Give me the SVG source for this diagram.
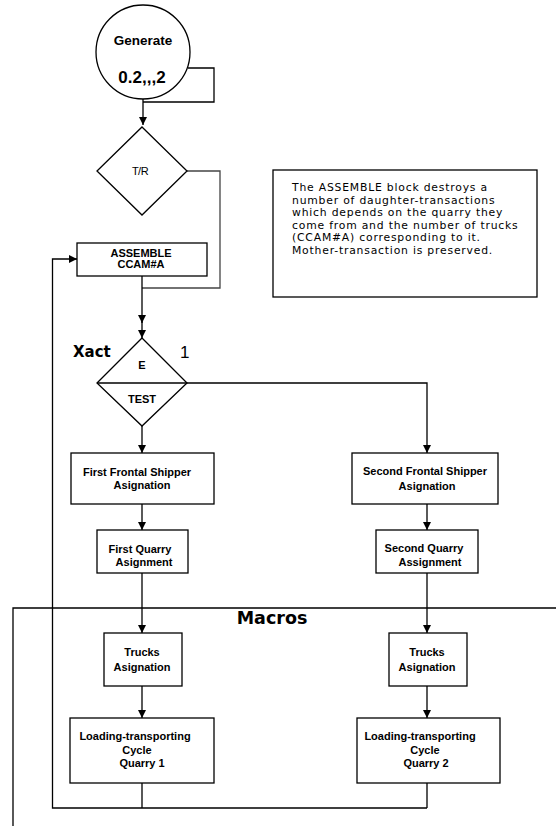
<svg xmlns="http://www.w3.org/2000/svg" width="556" height="826" viewBox="0 0 556 826">
<defs>
<marker id="arr" viewBox="0 0 8 8" refX="8" refY="4" markerWidth="8" markerHeight="8" markerUnits="userSpaceOnUse" orient="auto">
<path d="M0,0 L8,4 L0,8 Z" fill="#000"/>
</marker>
<style>
.n{fill:#fff;stroke:#000;stroke-width:1.3}
.c{fill:none;stroke:#000;stroke-width:1.3}
.g{fill:none;stroke:#444;stroke-width:1.3}
.t{font-family:"Liberation Sans",Arial,sans-serif;font-size:11px;font-weight:bold;text-anchor:middle;fill:#000}
.r{font-family:"Liberation Sans",Arial,sans-serif;font-size:11px;text-anchor:middle;fill:#000}
.note{font-family:"DejaVu Sans",Verdana,sans-serif;font-size:10.8px;letter-spacing:0.8px;fill:#000}
</style>
</defs>
<rect width="556" height="826" fill="#fff"/>

<g id="frame">
<path class="c" d="M13,826 V608 H556"/>
<text x="272" y="624" style="font-family:'DejaVu Sans',Verdana,sans-serif;font-size:17.5px;font-weight:bold" text-anchor="middle">Macros</text>
</g>

<g id="connectors">
<path class="c" d="M188,68 H214 V102 H143"/>
<path class="c" d="M143,99 V125" marker-end="url(#arr)"/>
<path class="g" d="M187,171 H220 V288 H142"/>
<path class="c" d="M142,276 V323" marker-end="url(#arr)"/>
<path class="c" d="M142,320 V338" marker-end="url(#arr)"/>
<path class="c" d="M142,426 V453" marker-end="url(#arr)"/>
<path class="c" d="M187,383 H427 V453" marker-end="url(#arr)"/>
<path class="c" d="M142,504 V530" marker-end="url(#arr)"/>
<path class="c" d="M427,504 V530" marker-end="url(#arr)"/>
<path class="c" d="M142,573 V633" marker-end="url(#arr)"/>
<path class="c" d="M427,573 V633" marker-end="url(#arr)"/>
<path class="c" d="M142,686 V718" marker-end="url(#arr)"/>
<path class="c" d="M427,686 V718" marker-end="url(#arr)"/>
<path class="c" d="M142,783 V808 M427,783 V808"/>
<path class="c" d="M427,808 H52.5 V259 H77" marker-end="url(#arr)"/>
</g>

<g id="generate">
<circle class="n" cx="143" cy="52" r="47"/>
<text x="143" y="45" class="t" style="font-size:13.5px">Generate</text>
<text x="142" y="83" class="t" style="font-size:17px">0.2,,,2</text>
</g>

<g id="tr">
<polygon class="n" points="142,127 187,171 142,215 97,171" stroke="#555"/>
<text x="140" y="175" class="r" style="font-size:11px;letter-spacing:-0.5px">T/R</text>
</g>

<g id="assemble">
<rect class="n" x="77" y="243" width="130" height="33"/>
<text x="141" y="257" class="t">ASSEMBLE</text>
<text x="141" y="268" class="t">CCAM#A</text>
</g>

<g id="note">
<rect class="n" x="273" y="170" width="264" height="127"/>
<text class="note" x="292" y="191">The ASSEMBLE block destroys a</text>
<text class="note" x="292" y="203.5">number of daughter-transactions</text>
<text class="note" x="292" y="216">which depends on the quarry they</text>
<text class="note" x="292" y="228.5">come from and the number of trucks</text>
<text class="note" x="292" y="241">(CCAM#A) corresponding to it.</text>
<text class="note" x="292" y="253.5">Mother-transaction is preserved.</text>
</g>

<g id="test">
<polygon class="n" points="142,338 187,383 142,426 97,383"/>
<line class="c" x1="97" y1="383" x2="187" y2="383"/>
<text x="142" y="369" class="t">E</text>
<text x="142" y="403" class="t">TEST</text>
<text x="73" y="357" style="font-family:'DejaVu Sans',Verdana,sans-serif;font-size:15px;font-weight:bold">Xact</text>
<text x="180" y="358" style="font-family:'Liberation Sans',Arial,sans-serif;font-size:17px">1</text>
</g>

<g id="first-shipper">
<rect class="n" x="71" y="453" width="143" height="51"/>
<text x="137" y="476" class="t">First Frontal Shipper</text>
<text x="142" y="489" class="t">Asignation</text>
</g>

<g id="second-shipper">
<rect class="n" x="352" y="453" width="146" height="51"/>
<text x="425" y="475" class="t">Second Frontal Shipper</text>
<text x="427" y="490" class="t">Asignation</text>
</g>

<g id="first-quarry">
<rect class="n" x="97" y="530" width="91" height="43"/>
<text x="140" y="553" class="t">First Quarry</text>
<text x="144" y="566" class="t">Asignment</text>
</g>

<g id="second-quarry">
<rect class="n" x="376" y="530" width="102" height="43"/>
<text x="424" y="552" class="t">Second Quarry</text>
<text x="430" y="566" class="t">Assignment</text>
</g>

<g id="trucks1">
<rect class="n" x="104" y="633" width="78" height="53"/>
<text x="142" y="656" class="t">Trucks</text>
<text x="142" y="671" class="t">Asignation</text>
</g>

<g id="trucks2">
<rect class="n" x="389" y="633" width="78" height="53"/>
<text x="427" y="656" class="t">Trucks</text>
<text x="427" y="671" class="t">Asignation</text>
</g>

<g id="cycle1">
<rect class="n" x="70" y="718" width="144" height="65"/>
<text x="135" y="740" class="t">Loading-transporting</text>
<text x="137" y="754" class="t">Cycle</text>
<text x="142" y="767" class="t">Quarry 1</text>
</g>

<g id="cycle2">
<rect class="n" x="357" y="718" width="143" height="65"/>
<text x="420" y="740" class="t">Loading-transporting</text>
<text x="425" y="754" class="t">Cycle</text>
<text x="426" y="767" class="t">Quarry 2</text>
</g>
</svg>
